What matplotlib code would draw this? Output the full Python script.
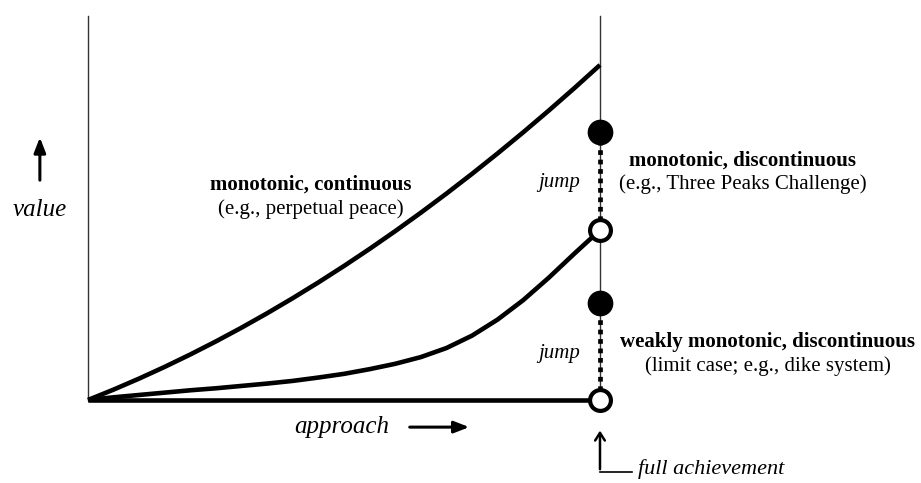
import matplotlib
matplotlib.use('Agg')
import matplotlib.pyplot as plt

plt.rcParams['font.family'] = ['Liberation Serif', 'DejaVu Serif']

# approach (0 = start, 1 = full achievement)
approach = [0.0, 0.05, 0.1, 0.15, 0.2, 0.25, 0.3, 0.35, 0.4, 0.45, 0.5,
            0.55, 0.6, 0.65, 0.7, 0.75, 0.8, 0.85, 0.9, 0.95, 1.0]
# monotonic, continuous
value_cont = [0.0, 0.031, 0.064, 0.099, 0.136, 0.175, 0.216, 0.259, 0.304, 0.351, 0.400,
              0.451, 0.504, 0.559, 0.616, 0.675, 0.736, 0.799, 0.864, 0.931, 1.0]

# monotonic, discontinuous (curve up to just before full achievement)
value_disc = [0.0, 0.008, 0.015, 0.022, 0.029, 0.035, 0.042, 0.049, 0.057, 0.067, 0.078,
              0.092, 0.108, 0.128, 0.155, 0.192, 0.240, 0.298, 0.365, 0.437, 0.507]
jump_disc = [0.507, 0.80]      # open circle -> filled circle

# weakly monotonic, discontinuous
approach_weak = [0.0, 1.0]
value_weak = [0.0, 0.0]
jump_weak = [0.0, 0.29]

fig = plt.figure(figsize=(9.21, 4.83), dpi=100)
ax = fig.add_axes([0, 0, 1, 1])
ax.set_xlim(-0.171875, 1.627)
ax.set_ylim(-0.2478, 1.194)
ax.axis('off')

lw = 3.3
top = 1.146
# axes lines
ax.plot([0, 0], [0, top], color='#333333', lw=1.0)
ax.plot([1, 1], [0, top], color='#333333', lw=1.0)

# curves
ax.plot(approach, value_cont, color='black', lw=lw, solid_joinstyle='round',
        solid_capstyle='butt')
ax.plot(approach, value_disc, color='black', lw=lw, solid_joinstyle='round',
        solid_capstyle='butt')
ax.plot(approach_weak, value_weak, color='black', lw=lw, solid_capstyle='butt')

# jumps
for j in (jump_disc, jump_weak):
    ax.plot([1, 1], j, color='black', lw=3.4, dashes=(1.0, 1.0), zorder=3)
    ax.plot(1, j[1], 'o', color='black', ms=17.5, zorder=4)
    ax.plot(1, j[0], 'o', mfc='white', mec='black', ms=15, mew=3.0, zorder=4)

# labels
ax.text(0.436, 0.642, 'monotonic, continuous', ha='center', va='center',
        fontsize=15, fontweight='bold')
ax.text(0.436, 0.570, '(e.g., perpetual peace)', ha='center', va='center', fontsize=15)

ax.text(1.279, 0.716, 'monotonic, discontinuous', ha='center', va='center',
        fontsize=15, fontweight='bold')
ax.text(1.279, 0.645, '(e.g., Three Peaks Challenge)', ha='center', va='center', fontsize=15)

ax.text(1.328, 0.173, 'weakly monotonic, discontinuous', ha='center', va='center',
        fontsize=15, fontweight='bold')
ax.text(1.328, 0.101, '(limit case; e.g., dike system)', ha='center', va='center', fontsize=15)

ax.text(0.961, 0.648, 'jump', ha='right', va='center', fontsize=15, style='italic')
ax.text(0.961, 0.140, 'jump', ha='right', va='center', fontsize=15, style='italic')

# value axis label
ax.text(-0.094, 0.567, 'value', ha='center', va='center', fontsize=18, style='italic')
ax.annotate('', xy=(-0.094, 0.792), xytext=(-0.094, 0.648),
            arrowprops=dict(arrowstyle='-|>,head_length=0.9,head_width=0.35',
                            color='black', lw=2.2))

# approach label
ax.text(0.496, -0.081, 'approach', ha='center', va='center', fontsize=18, style='italic')
ax.annotate('', xy=(0.750, -0.081), xytext=(0.623, -0.081),
            arrowprops=dict(arrowstyle='-|>,head_length=0.9,head_width=0.35',
                            color='black', lw=2.2))

# full achievement marker
ax.plot([1, 1.0625], [-0.215, -0.215], color='black', lw=1.2)
ax.annotate('', xy=(1, -0.083), xytext=(1, -0.215),
            arrowprops=dict(arrowstyle='->,head_length=0.55,head_width=0.35',
                            color='black', lw=1.8))
ax.text(1.074, -0.206, 'full achievement', ha='left', va='center', fontsize=16, style='italic')

fig.savefig('out.png', dpi=100)
